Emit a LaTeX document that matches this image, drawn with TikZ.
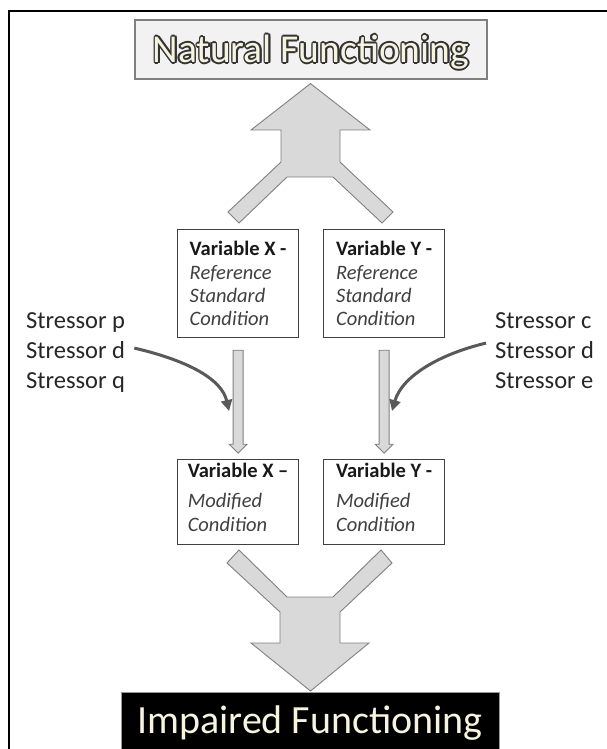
\documentclass[tikz,border=0pt]{standalone}
\usepackage{fontspec}
\setmainfont{Carlito}
\usetikzlibrary{arrows.meta,calc}
\definecolor{arrowfill}{HTML}{D9D9D9}
\definecolor{arrowedge}{HTML}{808080}
\definecolor{curvecol}{HTML}{595959}
\definecolor{cream}{HTML}{F6F3DE}
\definecolor{titlefill}{HTML}{F2F2F2}
\definecolor{titleedge}{HTML}{7F7F7F}
\definecolor{outlinecol}{HTML}{333333}
\definecolor{boxedge}{HTML}{404040}
\definecolor{italcol}{HTML}{404040}
\tikzset{
  bigarrow/.style={fill=arrowfill, draw=arrowedge, line width=0.9pt, line join=miter},
  thinarrow/.style={fill=arrowfill, draw=arrowedge, line width=0.9pt},
  varbox/.style={draw=boxedge, line width=1.2pt, fill=white, anchor=north west,
    minimum width=121pt, inner xsep=0pt, align=left,
    font=\fontsize{20.5}{23.4}\selectfont, text=black!90},
  stresstext/.style={anchor=base west, inner sep=0pt, font=\fontsize{24.5}{30}\selectfont, text=black!85},
  curvearrow/.style={draw=curvecol, line width=3pt, -{Triangle[length=11pt,width=11pt]}},
  titlebox/.style={fill=titlefill, draw=titleedge, line width=1.2pt, minimum width=352pt, minimum height=59pt},
  titletext/.style={anchor=base, inner sep=0pt, font=\fontsize{39.5}{42}\selectfont},
}
\begin{document}
\begin{tikzpicture}[x=1pt,y=-1pt]
\useasboundingbox (0,0) rectangle (606,749);
\fill[white] (0,0) rectangle (606,749);
% frame
\draw[line width=1.6pt] (9,760) -- (9,11) -- (610,11);

% title
\node[titlebox] (title) at (311,49.5) {};
\foreach \a [count=\i] in {0,30,...,330}
  \node[titletext, text=outlinecol] (tc\i) at ($(311,62.5)+(\a:1.6)$) {Natural Functioning};
\node[titletext, text=cream] (tt) at (311,62.5) {Natural Functioning};

% upper big arrow
\filldraw[bigarrow] ($(title.south)+(-0.5,4)$) -- (370,130) -- (340,130) -- (340,162) -- (393,212)
  -- (382,223) -- (333,177) -- (287,177) -- (239,223) -- (228,212) -- (281,162)
  -- (281,130) -- (251,130) -- cycle;

% variable boxes
\node[varbox, minimum height=108pt] (xref) at (177,229)
  {\textbf{Variable X -}\\\textcolor{italcol}{\textit{Reference}}\\\textcolor{italcol}{\textit{Standard}}\\\textcolor{italcol}{\textit{Condition}}};
\node[varbox, minimum height=108pt] (yref) at (323,229)
  {\textbf{Variable Y -}\\\textcolor{italcol}{\textit{Reference}}\\\textcolor{italcol}{\textit{Standard}}\\\textcolor{italcol}{\textit{Condition}}};
\node[varbox, minimum height=84pt] (xmod) at (177,459)
  {\textbf{Variable X –}\\[7pt]\textcolor{italcol}{\textit{Modified}}\\\textcolor{italcol}{\textit{Condition}}\rule[-10pt]{0pt}{10pt}};
\node[varbox, minimum height=84pt] (ymod) at (323,459)
  {\textbf{Variable Y -}\\[7pt]\textcolor{italcol}{\textit{Modified}}\\\textcolor{italcol}{\textit{Condition}}\rule[-10pt]{0pt}{10pt}};

% thin arrows between boxes
\filldraw[thinarrow] (xref.south) ++(-5,12) -- ++(10,0) -- ++(0,94) -- ++(4,0) -- ++(-9,9) -- ++(-9,-9) -- ++(4,0) -- cycle;
\filldraw[thinarrow] (yref.south) ++(-5,12) -- ++(10,0) -- ++(0,94) -- ++(4,0) -- ++(-9,9) -- ++(-9,-9) -- ++(4,0) -- cycle;

% stressors
\node[stresstext] (sp) at (26,328.5) {Stressor p};
\node[stresstext] (sd) at (26,358.5) {Stressor d};
\node[stresstext] (sq) at (26,388.5) {Stressor q};
\node[stresstext] (sc) at (495,328.5) {Stressor c};
\node[stresstext] (sd2) at (495,358.5) {Stressor d};
\node[stresstext] (se) at (495,388.5) {Stressor e};

\coordinate (tipL) at (229,411);
\coordinate (tipR) at (392,411);
\draw[curvearrow] ($(sd.east)+(9,-2)$) .. controls (190,361) and (222,380) .. (tipL);
\draw[curvearrow] ($(sd2.west)+(-9,-7)$) .. controls (440,354) and (402,376) .. (tipR);

% lower big arrow
\filldraw[bigarrow] (227,563) -- (239,550) -- (287,597) -- (333,597) -- (381,550) -- (392,563)
  -- (340,612) -- (340,643) -- (369,643) -- (310.5,691) -- (251,643) -- (280,643)
  -- (280,612) -- cycle;

% impaired functioning
\node[fill=black, draw=black!40, line width=0.8pt, minimum width=378pt, minimum height=68pt, anchor=north] (imp) at (310,692) {};
\node[anchor=base, inner sep=0pt, text=cream, font=\fontsize{40}{44}\selectfont] (impt) at (310,733) {Impaired Functioning};
\end{tikzpicture}
\end{document}
